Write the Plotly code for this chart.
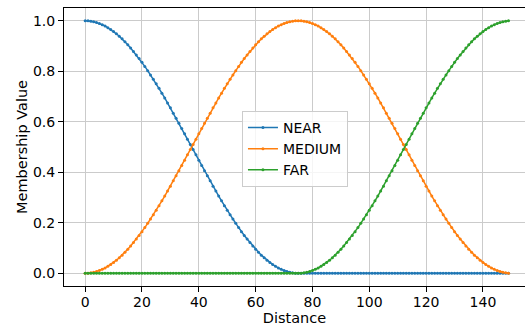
import plotly.graph_objects as go

distance = list(range(150))

near_falling = [
    1.000, 1.000, 0.998, 0.996, 0.993, 0.989, 0.984, 0.979, 0.972, 0.965,
    0.957, 0.948, 0.938, 0.928, 0.916, 0.905, 0.892, 0.878, 0.864, 0.850,
    0.835, 0.819, 0.802, 0.785, 0.768, 0.750, 0.732, 0.713, 0.694, 0.674,
    0.655, 0.634, 0.614, 0.594, 0.573, 0.552, 0.531, 0.510, 0.490, 0.469,
    0.448, 0.427, 0.406, 0.386, 0.366, 0.345, 0.326, 0.306, 0.287, 0.268,
    0.250, 0.232, 0.215, 0.198, 0.181, 0.165, 0.150, 0.136, 0.122, 0.108,
    0.095, 0.084, 0.072, 0.062, 0.052, 0.043, 0.035, 0.028, 0.021, 0.016,
    0.011, 0.007, 0.004, 0.002, 0.000, 0.000,
]
near_zero = [0.0] * 74
near = near_falling + near_zero

medium = [
    0.000, 0.000, 0.002, 0.004, 0.007, 0.011, 0.016, 0.021, 0.028, 0.035,
    0.043, 0.052, 0.062, 0.072, 0.084, 0.095, 0.108, 0.122, 0.136, 0.150,
    0.165, 0.181, 0.198, 0.215, 0.232, 0.250, 0.268, 0.287, 0.306, 0.326,
    0.345, 0.366, 0.386, 0.406, 0.427, 0.448, 0.469, 0.490, 0.510, 0.531,
    0.552, 0.573, 0.594, 0.614, 0.634, 0.655, 0.674, 0.694, 0.713, 0.732,
    0.750, 0.768, 0.785, 0.802, 0.819, 0.835, 0.850, 0.864, 0.878, 0.892,
    0.905, 0.916, 0.928, 0.938, 0.948, 0.957, 0.965, 0.972, 0.979, 0.984,
    0.989, 0.993, 0.996, 0.998, 1.000, 1.000,
    1.000, 0.998, 0.996, 0.993, 0.989, 0.984, 0.979, 0.972, 0.965,
    0.957, 0.948, 0.938, 0.928, 0.916, 0.905, 0.892, 0.878, 0.864, 0.850,
    0.835, 0.819, 0.802, 0.785, 0.768, 0.750, 0.732, 0.713, 0.694, 0.674,
    0.655, 0.634, 0.614, 0.594, 0.573, 0.552, 0.531, 0.510, 0.490, 0.469,
    0.448, 0.427, 0.406, 0.386, 0.366, 0.345, 0.326, 0.306, 0.287, 0.268,
    0.250, 0.232, 0.215, 0.198, 0.181, 0.165, 0.150, 0.136, 0.122, 0.108,
    0.095, 0.084, 0.072, 0.062, 0.052, 0.043, 0.035, 0.028, 0.021, 0.016,
    0.011, 0.007, 0.004, 0.002, 0.000,
]

far_zero = [0.0] * 76
far_rising = [
    0.000, 0.002, 0.004, 0.007, 0.011, 0.016, 0.021, 0.028, 0.035, 0.043,
    0.052, 0.062, 0.072, 0.084, 0.095, 0.108, 0.122, 0.136, 0.150, 0.165,
    0.181, 0.198, 0.215, 0.232, 0.250, 0.268, 0.287, 0.306, 0.326, 0.345,
    0.366, 0.386, 0.406, 0.427, 0.448, 0.469, 0.490, 0.510, 0.531, 0.552,
    0.573, 0.594, 0.614, 0.634, 0.655, 0.674, 0.694, 0.713, 0.732, 0.750,
    0.768, 0.785, 0.802, 0.819, 0.835, 0.850, 0.864, 0.878, 0.892, 0.905,
    0.916, 0.928, 0.938, 0.948, 0.957, 0.965, 0.972, 0.979, 0.984, 0.989,
    0.993, 0.996, 0.998, 1.000,
]
far = far_zero + far_rising

series_names = ["NEAR", "MEDIUM", "FAR"]
series_values = [near, medium, far]
colors = ["#1f77b4", "#ff7f0e", "#2ca02c"]

x_ticks = [0, 20, 40, 60, 80, 100, 120, 140]
y_ticks = [0.0, 0.2, 0.4, 0.6, 0.8, 1.0]

fig = go.Figure()
for name, vals, c in zip(series_names, series_values, colors):
    fig.add_trace(go.Scatter(
        x=distance, y=vals, name=name, mode="lines+markers",
        line=dict(color=c, width=1.5),
        marker=dict(color=c, size=3),
    ))

font = dict(family="DejaVu Sans", size=14, color="black")
title_font = dict(family="DejaVu Sans", size=14.5, color="black")
fig.update_layout(
    width=525, height=326,
    margin=dict(l=64, r=0, t=8, b=40, autoexpand=False),
    paper_bgcolor="white", plot_bgcolor="white",
    font=font,
    showlegend=True,
    legend=dict(
        x=0.501, y=0.63, xanchor="center", yanchor="top",
        bgcolor="rgba(255,255,255,0.8)", bordercolor="#cccccc", borderwidth=1,
        font=font,
    ),
)
fig.update_xaxes(
    range=[-7.45, 154.8], tickvals=x_ticks,
    showgrid=True, gridcolor="#cbcbcb", gridwidth=1,
    showline=True, linecolor="black", linewidth=1, mirror=True,
    ticks="outside", ticklen=5, tickcolor="black",
    ticklabelstandoff=-2,
    zeroline=False, automargin=False,
    title=dict(text="Distance", font=title_font, standoff=2),
)
fig.update_yaxes(
    range=[-0.05, 1.05], tickvals=y_ticks, tickformat=".1f",
    showgrid=True, gridcolor="#cbcbcb", gridwidth=1,
    showline=True, linecolor="black", linewidth=1,
    ticks="outside", ticklen=5, tickcolor="black",
    zeroline=False, automargin=False,
    title=dict(text="Membership Value", font=title_font, standoff=1),
)

fig.write_html(
    "out.html",
    config={"displayModeBar": False},
    post_script="document.body.style.margin='0px';document.body.style.overflow='hidden';",
)
